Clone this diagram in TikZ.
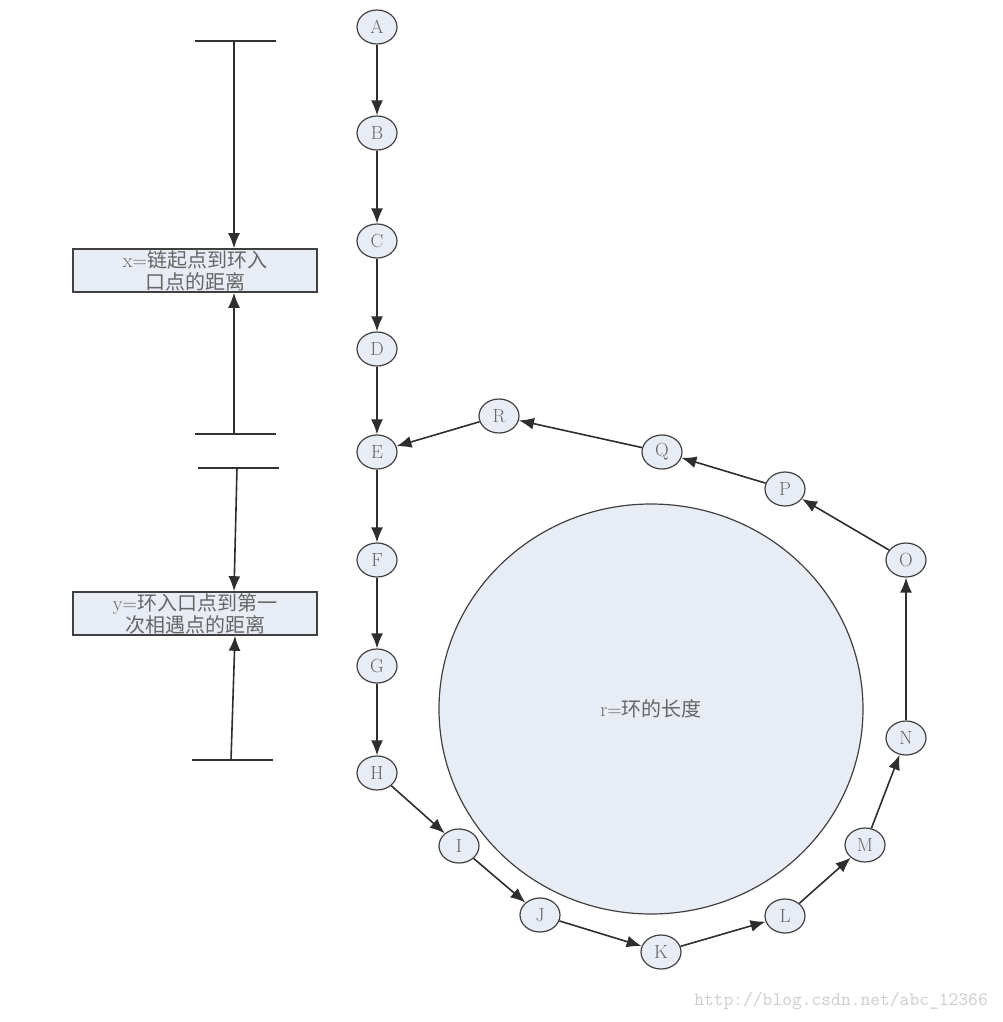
\documentclass[tikz,border=0pt]{standalone}
\usepackage{fontspec}
\newfontfamily\cjk{Noto Sans CJK SC}
\usetikzlibrary{arrows.meta,shapes.geometric}
\definecolor{nodefill}{HTML}{E8ECF5}
\definecolor{edgegray}{HTML}{2E2E2E}
\begin{document}
\begin{tikzpicture}
  [x=1pt,y=-1pt,every node/.style={ellipse,draw=black!75,line width=1.2pt,fill=nodefill,
   minimum width=40pt,minimum height=34pt,inner sep=0pt,font=\fontsize{19}{19}\selectfont,text=black!60}]
 \tikzset{edge/.style = {-{Latex[length=15pt,width=12pt]},draw=edgegray,line width=1.6pt},
   note/.style = {rectangle,draw=black!75,line width=1.6pt,fill=nodefill,minimum width=244pt,
     minimum height=43pt,inner sep=0pt,align=center,font=\fontsize{20}{22}\selectfont,text=black!60},
   bar/.style = {draw=black!80,line width=1.6pt}}
  \useasboundingbox (0,0) rectangle (1002,1022);
  % ring in the middle
  \node[minimum width=424pt,minimum height=410pt,font=\fontsize{20}{20}\selectfont] (ring) at (651,709) {r={\cjk 环的长度}};
  \node (A) at (377,27)  {A};
  \node (B) at (377,133) {B};
  \node (C) at (377,241) {C};
  \node (D) at (377,349) {D};
  \node (E) at (377,452) {E};
  \node (F) at (377,560) {F};
  \node (G) at (377,666) {G};
  \node (H) at (377,773) {H};
  \node (I) at (459,846) {I};
  \node (J) at (540,915) {J};
  \node (K) at (661,952) {K};
  \node (L) at (785,916) {L};
  \node (M) at (865,845) {M};
  \node (N) at (906,738) {N};
  \node (O) at (906,560) {O};
  \node (P) at (785,489) {P};
  \node (Q) at (662,452) {Q};
  \node (R) at (499,416) {R};

  \foreach \from/\to in {A/B,B/C,C/D,D/E,E/F,F/G,G/H,H/I,I/J,J/K,K/L,L/M,M/N,N/O,O/P,P/Q,Q/R,R/E}
    \draw[edge] (\from) to (\to);

  % distance marks on the left
  \node[note] (xbox) at (195,270.5) {x={\cjk 链起点到环入}\\{\cjk 口点的距离}};
  \node[note] (ybox) at (195,613.5) {y={\cjk 环入口点到第一}\\{\cjk 次相遇点的距离}};
  \coordinate (bar1) at (234,41);
  \coordinate (bar2) at (234,434);
  \coordinate (bar3) at (237,468);
  \coordinate (bar4) at (231,760);
  \foreach \b in {bar1,bar2,bar3,bar4}
    \draw[bar] ([xshift=-39pt]\b) -- ([xshift=42pt]\b);
  \draw[edge] (bar1) -- (xbox.north -| bar1);
  \draw[edge] (bar2) -- (xbox.south -| bar2);
  \draw[edge] (bar3) -- ([xshift=-3pt]ybox.north -| bar3);
  \draw[edge] (bar4) -- ([xshift=4pt]ybox.south -| bar4);

  \node[draw=none,fill=none,rectangle,font=\ttfamily\fontsize{19}{19}\selectfont,text=black!20] (mark) at (841,1001) {http://blog.csdn.net/abc\_12366};
\end{tikzpicture}
\end{document}
